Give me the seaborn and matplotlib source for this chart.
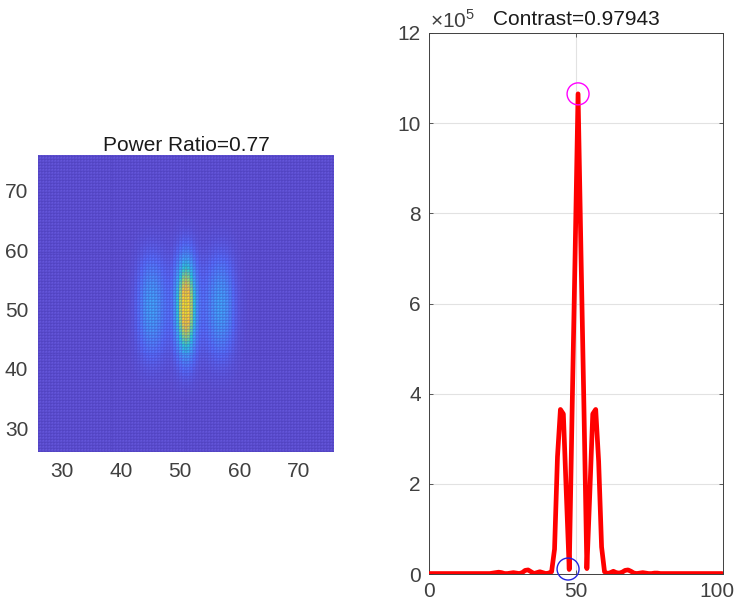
import numpy as np
import pandas as pd
import matplotlib
matplotlib.use('Agg')
import matplotlib.pyplot as plt
from matplotlib.colors import LinearSegmentedColormap
from matplotlib.transforms import ScaledTranslation
import seaborn as sns

# section through the peak, in units of 1e5
line_x = [i - 0.3 for i in range(101)]
line_values = [
    0.01, 0.01, 0.01, 0.01, 0.01, 0.01, 0.01, 0.01, 0.01, 0.01,
    0.01, 0.01, 0.01, 0.01, 0.01, 0.01, 0.01, 0.01, 0.01, 0.01,
    0.01, 0.01, 0.02, 0.03, 0.04, 0.03, 0.01, 0.01, 0.02, 0.03,
    0.02, 0.01, 0.03, 0.08, 0.09, 0.05, 0.01, 0.03, 0.05, 0.03,
    0.01, 0.02, 0.05, 0.55, 2.60, 3.65, 3.55, 1.80, 0.10, 3.70,
    7.10, 10.65, 7.10, 3.70, 0.12, 1.80, 3.55, 3.65, 2.50, 0.60,
    0.05, 0.01, 0.03, 0.06, 0.03, 0.02, 0.04, 0.08, 0.09, 0.06,
    0.02, 0.01, 0.02, 0.03, 0.02, 0.01, 0.01, 0.02, 0.02, 0.01,
    0.01, 0.01, 0.01, 0.01, 0.01, 0.01, 0.01, 0.01, 0.01, 0.01,
    0.01, 0.01, 0.01, 0.01, 0.01, 0.01, 0.01, 0.01, 0.01, 0.01,
    0.01,
]
# spot brightness on a half-unit grid, 26..76 in both directions
horizontal_profile = [0.0] * 29 + [
    0.00, 0.01, 0.02, 0.04, 0.08, 0.14, 0.21, 0.28, 0.33, 0.35,
    0.35, 0.32, 0.27, 0.21, 0.17, 0.15, 0.17, 0.29, 0.48, 0.72,
    0.92, 1.00, 0.92, 0.72, 0.48, 0.29, 0.17, 0.15, 0.17, 0.21,
    0.27, 0.32, 0.35, 0.35, 0.33, 0.28, 0.21, 0.14, 0.08, 0.04,
    0.02, 0.01, 0.00,
] + [0.0] * 29
vertical_profile = [0.0] * 18 + [
    0.005, 0.01, 0.015, 0.02, 0.03, 0.04, 0.055, 0.075, 0.095, 0.12,
    0.15, 0.185, 0.225, 0.27, 0.315, 0.365, 0.42, 0.475, 0.53, 0.585,
    0.64, 0.695, 0.745, 0.795, 0.84, 0.88, 0.915, 0.945, 0.97, 0.985,
    0.995, 1.00, 0.995, 0.985, 0.97, 0.945, 0.915, 0.88, 0.84, 0.795,
    0.745, 0.695, 0.64, 0.585, 0.53, 0.475, 0.42, 0.365, 0.315, 0.27,
    0.225, 0.185, 0.15, 0.12, 0.095, 0.075, 0.055, 0.04, 0.03, 0.02,
    0.015, 0.01, 0.005,
] + [0.0] * 20
grid_start = 26
grid_per_unit = 2
image_ticks = [30, 40, 50, 60, 70]
line_xticks = [0, 50, 100]
line_yticks = [0, 2, 4, 6, 8, 10, 12]
peak_x, peak_y = 50.7, 10.65
dip_x, dip_y = 47.3, 0.11

sns.set_theme(style='white')
plt.rcParams['font.family'] = ['Liberation Sans', 'DejaVu Sans']
plt.rcParams['mathtext.fontset'] = 'custom'
plt.rcParams['mathtext.rm'] = 'Liberation Sans'

W, H = 736, 605
fig = plt.figure(figsize=(W / 100, H / 100), dpi=100)

def px_axes(x0, y0, x1, y1):
    return fig.add_axes([x0 / W, 1 - y1 / H, (x1 - x0) / W, (y1 - y0) / H])

tick_col = '#404040'

# left panel
ax = px_axes(38, 155, 334, 452)
matrix = np.outer(vertical_profile, horizontal_profile)
cmap = LinearSegmentedColormap.from_list('spot', [
    (0.00, (100 / 255, 86 / 255, 218 / 255)),
    (0.12, (90 / 255, 112 / 255, 255 / 255)),
    (0.35, (68 / 255, 168 / 255, 255 / 255)),
    (0.50, (45 / 255, 208 / 255, 220 / 255)),
    (0.70, (165 / 255, 222 / 255, 110 / 255)),
    (0.85, (255 / 255, 205 / 255, 60 / 255)),
    (1.00, (255 / 255, 245 / 255, 30 / 255)),
])
sns.heatmap(matrix, ax=ax, cmap=cmap, vmin=0, vmax=1, cbar=False,
            linewidths=0.2, linecolor=(0.2, 0.14, 0.6, 0.13),
            xticklabels=False, yticklabels=False, square=False)
ax.set_xlim(0.5, 100.5)
ax.set_ylim(0.5, 100.5)
tick_pos = [(t - grid_start) * grid_per_unit + 0.5 for t in image_ticks]
ax.set_xticks(tick_pos)
ax.set_yticks(tick_pos)
ax.set_xticklabels(image_ticks, rotation=0)
ax.set_yticklabels(image_ticks, rotation=0)
ax.tick_params(length=0, labelsize=15, labelcolor=tick_col, pad=7)
ax.set_xlabel('')
ax.set_ylabel('')
ax.set_title('Power Ratio=0.77', fontsize=15, color='#1a1a1a', pad=3)

# right panel
ax2 = px_axes(429, 33, 723, 574)
df = pd.DataFrame({'x': line_x, 'y': line_values})
sns.lineplot(data=df, x='x', y='y', ax=ax2, color='red', linewidth=3.4, zorder=3,
             errorbar=None)
sns.scatterplot(x=[peak_x], y=[peak_y], ax=ax2, s=250, facecolors='none',
                edgecolors='magenta', linewidth=1, zorder=4, clip_on=False)
sns.scatterplot(x=[dip_x], y=[dip_y], ax=ax2, s=250, facecolors='none',
                edgecolors='#2222dd', linewidth=1, zorder=4, clip_on=False)
ax2.set_xlim(0, 100)
ax2.set_ylim(0, 12)
ax2.set_xticks(line_xticks)
ax2.set_yticks(line_yticks)
ax2.grid(True, color='#e2e2e2', linewidth=0.8)
ax2.set_axisbelow(True)
ax2.tick_params(direction='in', length=3, width=0.6, color=tick_col, top=True,
                right=True, bottom=True, left=True, labelsize=15,
                labelcolor=tick_col, pad=6)
for s in ax2.spines.values():
    s.set_visible(True)
    s.set_color(tick_col)
    s.set_linewidth(0.7)
ax2.set_xlabel('')
ax2.set_ylabel('')
ax2.set_title('Contrast=0.97943', fontsize=15, color='#1a1a1a', pad=6)
fig.text(430 / W, 1 - 28 / H, r'$\times\mathrm{10}^{\mathrm{5}}$',
         fontsize=15, color=tick_col, va='baseline', ha='left')

# keep the last label inside the picture
last = ax2.get_xticklabels()[-1]
last.set_transform(last.get_transform() + ScaledTranslation(-0.06, 0, fig.dpi_scale_trans))

fig.savefig('out.png', dpi=100)
